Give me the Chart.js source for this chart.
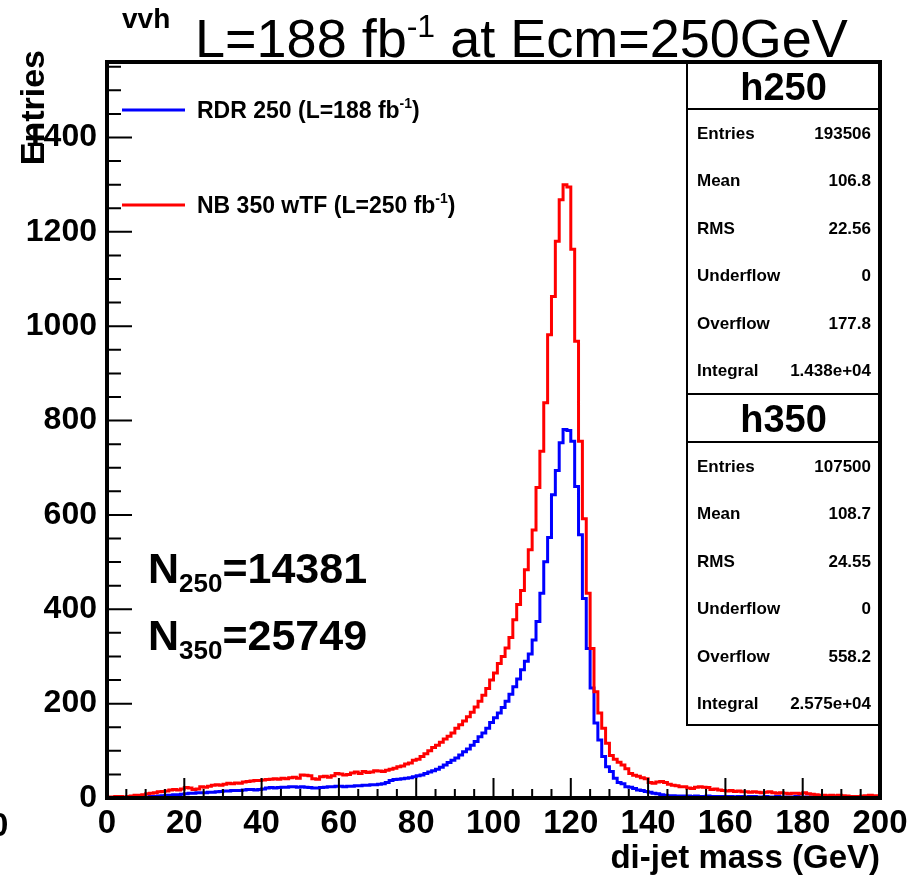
<!DOCTYPE html>
<html>
<head>
<meta charset="utf-8">
<script src="https://cdn.jsdelivr.net/npm/chart.js@4.4.1/dist/chart.umd.min.js"></script>
<style>
  html, body { margin: 0; padding: 0; background: #fff; }
  #wrap { position: relative; width: 923px; height: 880px; }
</style>
</head>
<body>
<div id="wrap"><canvas id="massChart" width="923" height="880"></canvas></div>
<script>
// di-jet mass histograms, 1 GeV bins from 0 to 200 GeV
const binLow = 0
const binWidth = 1
const xTicks = [0, 20, 40, 60, 80, 100, 120, 140, 160, 180, 200]
const yTicks = [0, 200, 400, 600, 800, 1000, 1200, 1400]

// RDR 250 (blue, h250)
const rdr250 = [
  0, 0, 0, 0, 1, 1, 1, 1, 2, 2,
  2, 3, 3, 4, 5, 6, 6, 7, 7, 8,
  9, 10, 10, 11, 11, 11, 12, 12, 13, 14,
  15, 15, 16, 16, 16, 17, 18, 18, 17, 18,
  19, 21, 22, 21, 22, 23, 23, 24, 24, 23,
  24, 23, 22, 21, 21, 22, 23, 24, 24, 25,
  25, 24, 25, 25, 26, 26, 27, 27, 28, 28,
  29, 30, 33, 37, 39, 40, 41, 42, 43, 45,
  47, 49, 52, 55, 58, 61, 65, 70, 75, 80,
  85, 91, 98, 104, 112, 120, 130, 138, 148, 160,
  170, 180, 192, 205, 220, 236, 252, 272, 290, 305,
  335, 374, 434, 501, 552, 643, 694, 753, 781, 779,
  756, 660, 558, 423, 317, 233, 159, 123, 88, 66,
  56, 42, 33, 30, 24, 23, 20, 17, 16, 14,
  12, 10, 9, 7, 6, 5, 5, 4, 4, 4,
  4, 3, 4, 3, 3, 4, 3, 3, 3, 3,
  3, 3, 2, 3, 3, 2, 3, 3, 2, 2,
  3, 2, 2, 3, 2, 2, 2, 2, 3, 2,
  2, 2, 2, 2, 2, 1, 2, 2, 2, 1,
  2, 1, 1, 2, 1, 1, 1, 2, 1, 1,
]

// NB 350 wTF (red, h350)
const nb350 = [
  2, 2, 3, 3, 2, 3, 4, 6, 6, 7,
  9, 10, 11, 13, 14, 15, 17, 18, 17, 19,
  22, 21, 18, 19, 24, 23, 25, 27, 28, 27,
  29, 31, 30, 32, 31, 34, 35, 36, 37, 37,
  38, 39, 40, 41, 40, 42, 41, 43, 44, 42,
  49, 48, 47, 41, 40, 45, 46, 44, 47, 52,
  51, 49, 50, 53, 55, 52, 56, 54, 55, 58,
  57, 56, 59, 61, 63, 66, 68, 72, 74, 80,
  82, 88, 94, 100, 107, 112, 118, 125, 131, 138,
  148, 155, 163, 172, 182, 193, 205, 218, 232, 250,
  265, 285, 300, 318, 340, 378, 410, 440, 484, 526,
  568, 658, 735, 838, 982, 1063, 1180, 1268, 1300, 1295,
  1163, 968, 756, 592, 434, 317, 225, 180, 148, 116,
  90, 82, 76, 70, 62, 52, 48, 46, 43, 41,
  33, 31, 34, 35, 33, 29, 27, 26, 24, 24,
  21, 20, 23, 24, 23, 22, 18, 19, 17, 16,
  15, 16, 14, 15, 13, 13, 12, 13, 12, 11,
  12, 13, 11, 10, 11, 10, 9, 10, 10, 9,
  11, 9, 8, 7, 6, 6, 5, 6, 5, 6,
  5, 4, 3, 3, 3, 4, 5, 6, 5, 5,
]

const statsH250 = [
  ['Entries', '193506'],
  ['Mean', '106.8'],
  ['RMS', '22.56'],
  ['Underflow', '0'],
  ['Overflow', '177.8'],
  ['Integral', '1.438e+04'],
]
const statsH350 = [
  ['Entries', '107500'],
  ['Mean', '108.7'],
  ['RMS', '24.55'],
  ['Underflow', '0'],
  ['Overflow', '558.2'],
  ['Integral', '2.575e+04'],
]

const FONT = '"Liberation Sans", Arial, Helvetica, sans-serif'
const BLUE = '#0000ff'
const RED = '#ff0000'

// histogram -> step points at the left edge of each bin, plus the closing edge
function toSteps(values) {
  const pts = values.map((v, i) => ({ x: binLow + i * binWidth, y: v }))
  pts.push({ x: binLow + values.length * binWidth, y: values[values.length - 1] })
  return pts
}

// draw a row of text pieces (for sub/superscripts)
function drawRuns(ctx, x, y, runs) {
  for (const [text, font, dy] of runs) {
    ctx.font = font
    ctx.fillText(text, x, y + dy)
    x += ctx.measureText(text).width
  }
  return x
}

const rootDecor = {
  id: 'rootDecor',
  afterDraw(chart) {
    const ctx = chart.ctx
    const xs = chart.scales.x
    const ys = chart.scales.y
    const area = chart.chartArea
    ctx.save()
    ctx.fillStyle = '#000'
    ctx.strokeStyle = '#000'
    ctx.textAlign = 'left'
    ctx.textBaseline = 'alphabetic'

    // inward ticks, ROOT style
    ctx.lineWidth = 2
    ctx.beginPath()
    for (let v = 0; v <= 200; v += 5) {
      const px = xs.getPixelForValue(v)
      const len = xTicks.includes(v) ? 20 : 9
      ctx.moveTo(px, area.bottom)
      ctx.lineTo(px, area.bottom - len)
    }
    for (let v = 0; v <= 1550; v += 50) {
      const py = ys.getPixelForValue(v)
      const len = yTicks.includes(v) ? 25 : 14
      ctx.moveTo(area.left, py)
      ctx.lineTo(area.left + len, py)
    }
    ctx.stroke()

    // stats boxes
    const bx = 687, bw = area.right - 687
    ctx.fillStyle = '#fff'
    ctx.fillRect(bx, area.top, bw, 725 - area.top)
    ctx.fillStyle = '#000'
    ctx.lineWidth = 2
    ctx.strokeRect(bx, area.top, bw, 725 - area.top)
    ctx.beginPath()
    ctx.moveTo(bx, 109); ctx.lineTo(area.right, 109)
    ctx.moveTo(bx, 394); ctx.lineTo(area.right, 394)
    ctx.moveTo(bx, 442); ctx.lineTo(area.right, 442)
    ctx.stroke()

    ctx.textAlign = 'center'
    ctx.font = 'bold 38px ' + FONT
    ctx.fillText('h250', bx + bw / 2, 100)
    ctx.fillText('h350', bx + bw / 2, 432)
    const rowsTop = [133, 466]
    ;[statsH250, statsH350].forEach((rows, k) => {
      rows.forEach(([label, val], i) => {
        const y = rowsTop[k] + i * 47.4 + 6
        ctx.font = 'bold 17px ' + FONT
        ctx.textAlign = 'left'
        ctx.fillText(label, 697, y)
        ctx.textAlign = 'right'
        ctx.fillText(val, 871, y)
      })
    })

    // frame
    ctx.lineWidth = 4
    ctx.strokeRect(area.left, area.top, area.right - area.left, area.bottom - area.top)

    // legend
    ctx.textAlign = 'left'
    ctx.lineWidth = 3
    const legend = [
      [BLUE, 110, 'RDR 250 (L=188 fb'],
      [RED, 205, 'NB 350 wTF (L=250 fb'],
    ]
    for (const [color, y, label] of legend) {
      ctx.strokeStyle = color
      ctx.beginPath()
      ctx.moveTo(122, y)
      ctx.lineTo(185, y)
      ctx.stroke()
      ctx.fillStyle = '#000'
      drawRuns(ctx, 197, y + 8, [
        [label, 'bold 23px ' + FONT, 0],
        ['-1', 'bold 14px ' + FONT, -10],
        [')', 'bold 23px ' + FONT, 0],
      ])
    }

    // title
    drawRuns(ctx, 122, 28, [['vvh', 'bold 28px ' + FONT, 0]])
    drawRuns(ctx, 195, 57, [
      ['L=188 fb', '54px ' + FONT, 0],
      ['-1', '32px ' + FONT, -20],
      [' at Ecm=250GeV', '54px ' + FONT, 0],
    ])

    // event counts
    drawRuns(ctx, 148, 583, [
      ['N', 'bold 43px ' + FONT, 0],
      ['250', 'bold 26px ' + FONT, 9],
      ['=14381', 'bold 43px ' + FONT, 0],
    ])
    drawRuns(ctx, 148, 650, [
      ['N', 'bold 43px ' + FONT, 0],
      ['350', 'bold 26px ' + FONT, 9],
      ['=25749', 'bold 43px ' + FONT, 0],
    ])

    // axis titles
    ctx.font = 'bold 33px ' + FONT
    ctx.textAlign = 'right'
    ctx.fillText('di-jet mass (GeV)', area.right, 868)
    ctx.save()
    ctx.translate(44, 50)
    ctx.rotate(-Math.PI / 2)
    ctx.font = 'bold 34px ' + FONT
    ctx.textAlign = 'right'
    ctx.fillText('Entries', 0, 0)
    ctx.restore()

    // clipped label of the neighbouring pad
    ctx.textAlign = 'left'
    ctx.font = 'bold 33px ' + FONT
    ctx.fillText('0', -10, 836)

    ctx.restore()
  },
}

new Chart(document.getElementById('massChart'), {
  type: 'line',
  data: {
    datasets: [
      {
        label: 'NB 350 wTF',
        data: toSteps(nb350),
        borderColor: RED,
        borderWidth: 3,
        stepped: 'before',
        pointRadius: 0,
        fill: false,
      },
      {
        label: 'RDR 250',
        data: toSteps(rdr250),
        borderColor: BLUE,
        borderWidth: 3,
        stepped: 'before',
        pointRadius: 0,
        fill: false,
      },
    ],
  },
  options: {
    responsive: false,
    devicePixelRatio: 1,
    animation: false,
    events: [],
    layout: { padding: { top: 62, right: 43, left: 0, bottom: 0 } },
    plugins: {
      legend: { display: false },
      tooltip: { enabled: false },
    },
    scales: {
      x: {
        type: 'linear',
        min: 0,
        max: 200,
        grid: { display: false, drawTicks: false },
        border: { display: false },
        afterBuildTicks: (scale) => {
          scale.ticks = xTicks.map((v) => ({ value: v }))
        },
        afterFit: (scale) => {
          scale.height = 82
        },
        ticks: {
          autoSkip: false,
          maxRotation: 0,
          padding: 6,
          color: '#000',
          font: { family: FONT, size: 33, weight: 'bold' },
          callback: (v) => String(v),
        },
      },
      y: {
        type: 'linear',
        min: 0,
        max: 1560,
        grid: { display: false, drawTicks: false },
        border: { display: false },
        afterBuildTicks: (scale) => {
          scale.ticks = yTicks.map((v) => ({ value: v }))
        },
        afterFit: (scale) => {
          scale.width = 107
        },
        ticks: {
          padding: 10,
          color: '#000',
          font: { family: FONT, size: 32, weight: 'bold' },
          callback: (v) => String(v),
        },
      },
    },
  },
  plugins: [rootDecor],
})
</script>
</body>
</html>
